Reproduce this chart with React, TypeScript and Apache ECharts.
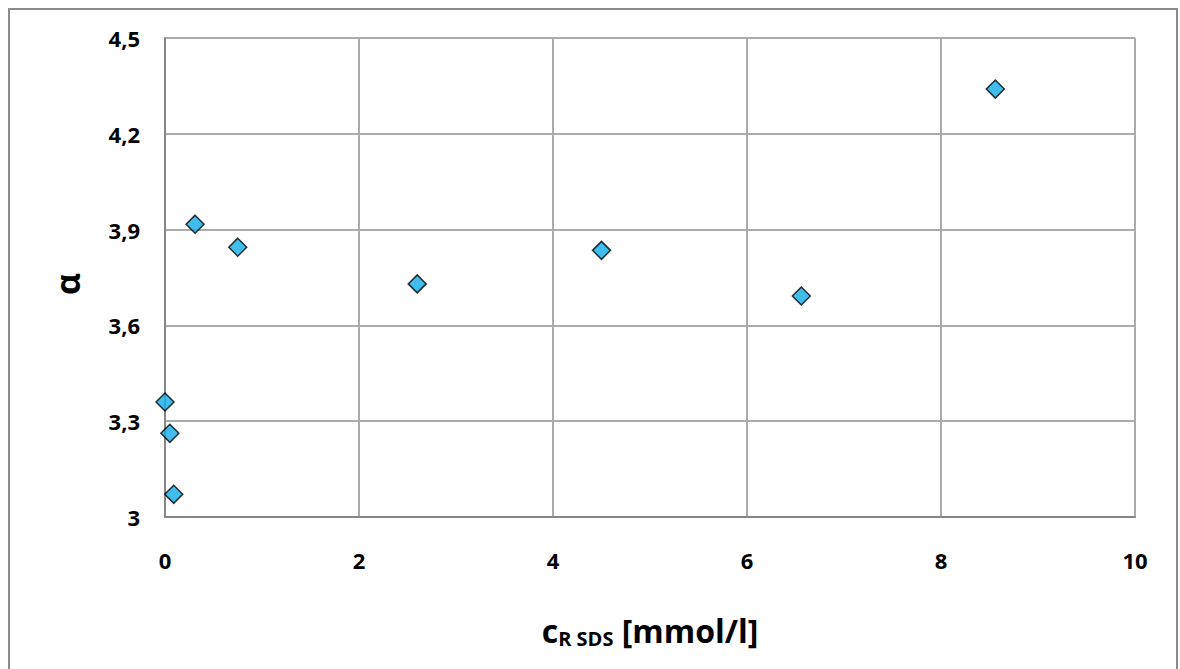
import React, { useEffect, useRef } from "react";
import * as echarts from "echarts";

const xValues = [0.0, 0.05, 0.09, 0.31, 0.75, 2.6, 4.5, 6.56, 8.56];
const alphaValues = [3.36, 3.262, 3.071, 3.917, 3.845, 3.73, 3.835, 3.692, 4.34];
const xTicks = { min: 0, max: 10, interval: 2 };
const yTicks = { min: 3, max: 4.5, interval: 0.3 };
const yTitle = "α";

export default function App() {
  const ref = useRef<HTMLDivElement>(null);
  useEffect(() => {
    document.body.style.margin = "0";
    const chart = echarts.init(ref.current!, null, { renderer: "svg" });
    const font = "'Open Sans', 'Noto Sans', sans-serif";
    chart.setOption({
      animation: false,
      backgroundColor: "#ffffff",
      graphic: [
        {
          type: "rect",
          shape: { x: 9, y: 9, width: 1168, height: 700 },
          style: { fill: "none", stroke: "#8c8c8c", lineWidth: 2 },
          silent: true,
        },
        {
          type: "text",
          x: 67,
          y: 284,
          rotation: Math.PI / 2,
          style: {
            text: yTitle,
            fontFamily: font,
            fontWeight: "bold",
            fontSize: 34,
            fill: "#000",
            align: "center",
            verticalAlign: "middle",
          },
          silent: true,
        },
      ],
      grid: { left: 165, top: 38, right: 45, bottom: 152 },
      xAxis: {
        type: "value",
        min: xTicks.min,
        max: xTicks.max,
        interval: xTicks.interval,
        axisLine: { show: true, lineStyle: { color: "#868686", width: 2 } },
        axisTick: { show: false },
        splitLine: { show: true, lineStyle: { color: "#ababab", width: 2 } },
        axisLabel: {
          margin: 32,
          fontFamily: font,
          fontWeight: "bold",
          fontSize: 22,
          color: "#000",
        },
        name: "{c|c}{s|R SDS}{c| [mmol/l]}",
        nameLocation: "middle",
        nameGap: 95,
        nameTextStyle: {
          rich: {
            c: { fontFamily: font, fontWeight: "bold", fontSize: 32, color: "#000" },
            s: {
              fontFamily: font,
              fontWeight: "bold",
              fontSize: 20,
              color: "#000",
              verticalAlign: "bottom",
              padding: [16, 0, 0, 0],
            },
          },
        },
      },
      yAxis: {
        type: "value",
        min: yTicks.min,
        max: yTicks.max,
        interval: yTicks.interval,
        axisLine: { show: true, lineStyle: { color: "#868686", width: 2 } },
        axisTick: { show: false },
        splitLine: { show: true, lineStyle: { color: "#ababab", width: 2 } },
        axisLabel: {
          margin: 25,
          fontFamily: font,
          fontWeight: "bold",
          fontSize: 22,
          color: "#000",
          formatter: (v: number) => String(Math.round(v * 10) / 10).replace(".", ","),
        },
      },
      series: [
        {
          type: "scatter",
          symbol: "diamond",
          symbolSize: 18,
          data: xValues.map((x, i) => [x, alphaValues[i]]),
          itemStyle: { color: "#12ADE8", borderColor: "#000", borderWidth: 1.5 },
        },
      ],
    });
    return () => chart.dispose();
  }, []);
  return (
    <div
      ref={ref}
      style={{ position: "absolute", left: 0, top: 0, width: 1180, height: 669 }}
    />
  );
}
